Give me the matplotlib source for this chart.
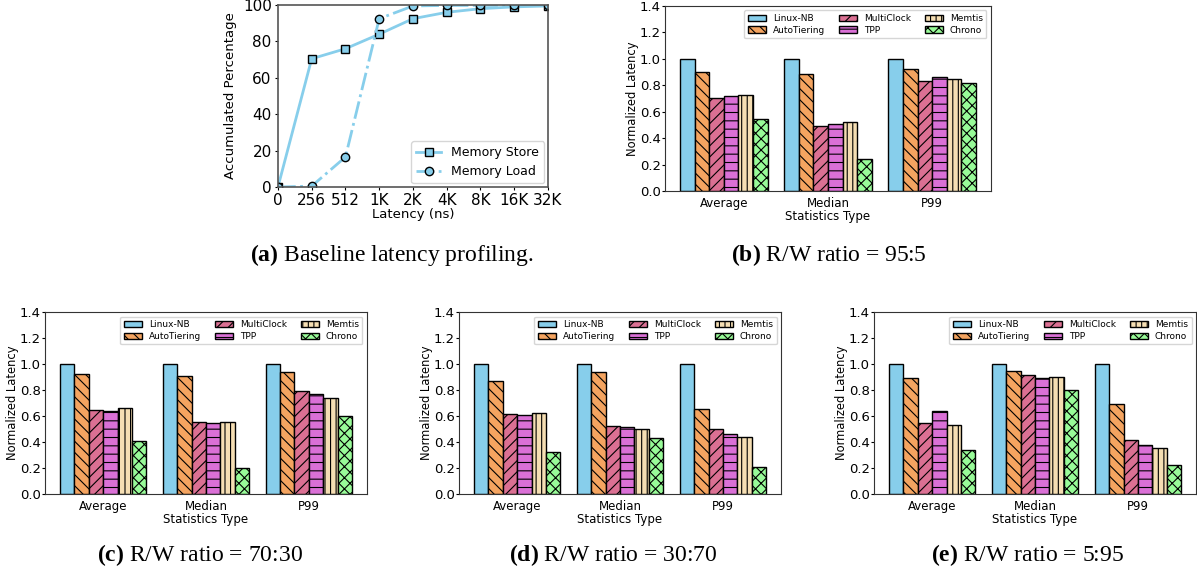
import numpy as np
import matplotlib
matplotlib.use("Agg")
import matplotlib.pyplot as plt

plt.rcParams["mathtext.fontset"] = "custom"
plt.rcParams["mathtext.bf"] = "Liberation Serif:bold"
plt.rcParams["mathtext.rm"] = "Liberation Serif"
plt.rcParams["hatch.linewidth"] = 0.8

# panel (a): latency CDF
lat_labels = ["0", "256", "512", "1K", "2K", "4K", "8K", "16K", "32K"]
store_pct = [0, 70.5, 76, 84, 92.5, 96, 98, 99, 99.5]
load_pct = [0, 0.5, 16.5, 92.5, 99.5, 99.8, 99.8, 99.8, 99.8]

# bar panels
stat_types = ["Average", "Median", "P99"]
systems = ["Linux-NB", "AutoTiering", "MultiClock", "TPP", "Memtis", "Chrono"]
colors = ["#87CEEB", "#F4A460", "#DB7093", "#DA70D6", "#F5DEB3", "#98FB98"]
hatches = ["", "\\\\\\", "///", "--", "|||", "xxx"]

rw_95_5 = [[1.0, 0.90, 0.70, 0.715, 0.73, 0.545],
           [1.0, 0.885, 0.495, 0.505, 0.525, 0.24],
           [1.0, 0.925, 0.835, 0.865, 0.85, 0.815]]
rw_70_30 = [[1.0, 0.92, 0.645, 0.635, 0.665, 0.405],
            [1.0, 0.905, 0.55, 0.545, 0.55, 0.20],
            [1.0, 0.94, 0.79, 0.77, 0.74, 0.60]]
rw_30_70 = [[1.0, 0.87, 0.615, 0.61, 0.625, 0.32],
            [1.0, 0.935, 0.525, 0.515, 0.50, 0.43],
            [1.0, 0.65, 0.50, 0.465, 0.435, 0.21]]
rw_5_95 = [[1.0, 0.89, 0.545, 0.64, 0.53, 0.335],
           [1.0, 0.945, 0.915, 0.895, 0.90, 0.80],
           [1.0, 0.695, 0.415, 0.38, 0.355, 0.225]]

fig = plt.figure(figsize=(11.97, 5.73), dpi=100)

# ---- (a)
ax = fig.add_axes([0.2322, 0.6736, 0.2256, 0.3176])
x = np.arange(len(lat_labels))
ax.plot(x, store_pct, color="#87CEEB", lw=2, marker="s", ms=6,
        mec="black", mfc="#87CEEB", label="Memory Store")
ax.plot(x, load_pct, color="#87CEEB", lw=2, ls="-.", marker="o", ms=6,
        mec="black", mfc="#87CEEB", label="Memory Load")
ax.set_xlim(0, 8)
ax.set_ylim(0, 100)
ax.set_xticks(x)
ax.set_xticklabels(lat_labels, fontsize=11)
ax.tick_params(axis="y", labelsize=11)
ax.tick_params(length=2.5, pad=2)
ax.set_xlabel("Latency (ns)", fontsize=9.5, labelpad=0)
ax.set_ylabel("Accumulated Percentage", fontsize=9.5)
ax.legend(loc="lower right", fontsize=9, borderaxespad=0.3)
for s in ax.spines.values():
    s.set_color("#555555")
    s.set_linewidth(1.2)


def bar_panel(rect, data):
    ax = fig.add_axes(rect)
    data = np.array(data)
    xs = np.arange(len(stat_types))
    w = 0.14
    for i, name in enumerate(systems):
        ax.bar(xs + (i - 2.5) * w, data[:, i], w, color=colors[i],
               hatch=hatches[i], edgecolor="black", linewidth=1, label=name)
    ax.set_xlim(-0.565, 2.565)
    ax.set_ylim(0, 1.4)
    ax.set_yticks(np.arange(0, 1.41, 0.2))
    ax.set_yticklabels([f"{v:.1f}" for v in np.arange(0, 1.41, 0.2)])
    ax.set_xticks(xs)
    ax.set_xticklabels(stat_types, fontsize=8.5)
    ax.tick_params(axis="y", labelsize=9.5, length=2, pad=1)
    ax.tick_params(axis="x", length=0, pad=4)
    ax.set_xlabel("Statistics Type", fontsize=8.5, labelpad=0)
    ax.set_ylabel("Normalized Latency", fontsize=8.3)
    ax.yaxis.set_label_coords(-0.08, 0.5)
    ax.legend(loc="upper right", ncol=3, fontsize=6.5, handlelength=2,
              columnspacing=1.5, labelspacing=0.3, borderpad=0.4)
    for s in ax.spines.values():
        s.set_color("#333333")
    return ax


bar_panel([0.5555, 0.6667, 0.2724, 0.3229], rw_95_5)
bar_panel([0.0376, 0.1379, 0.269, 0.3176], rw_70_30)
bar_panel([0.3835, 0.1379, 0.269, 0.3176], rw_30_70)
bar_panel([0.7302, 0.1379, 0.269, 0.3176], rw_5_95)

cap = dict(fontsize=17, family="Liberation Serif", ha="center", va="center")
fig.text(0.327, 0.555, r"$\bf{(a)}$ Baseline latency profiling.", **cap)
fig.text(0.692, 0.555, r"$\bf{(b)}$ R/W ratio = 95:5", **cap)
fig.text(0.167, 0.031, r"$\bf{(c)}$ R/W ratio = 70:30", **cap)
fig.text(0.512, 0.031, r"$\bf{(d)}$ R/W ratio = 30:70", **cap)
fig.text(0.858, 0.031, r"$\bf{(e)}$ R/W ratio = 5:95", **cap)

fig.savefig("out.png", dpi=100)
